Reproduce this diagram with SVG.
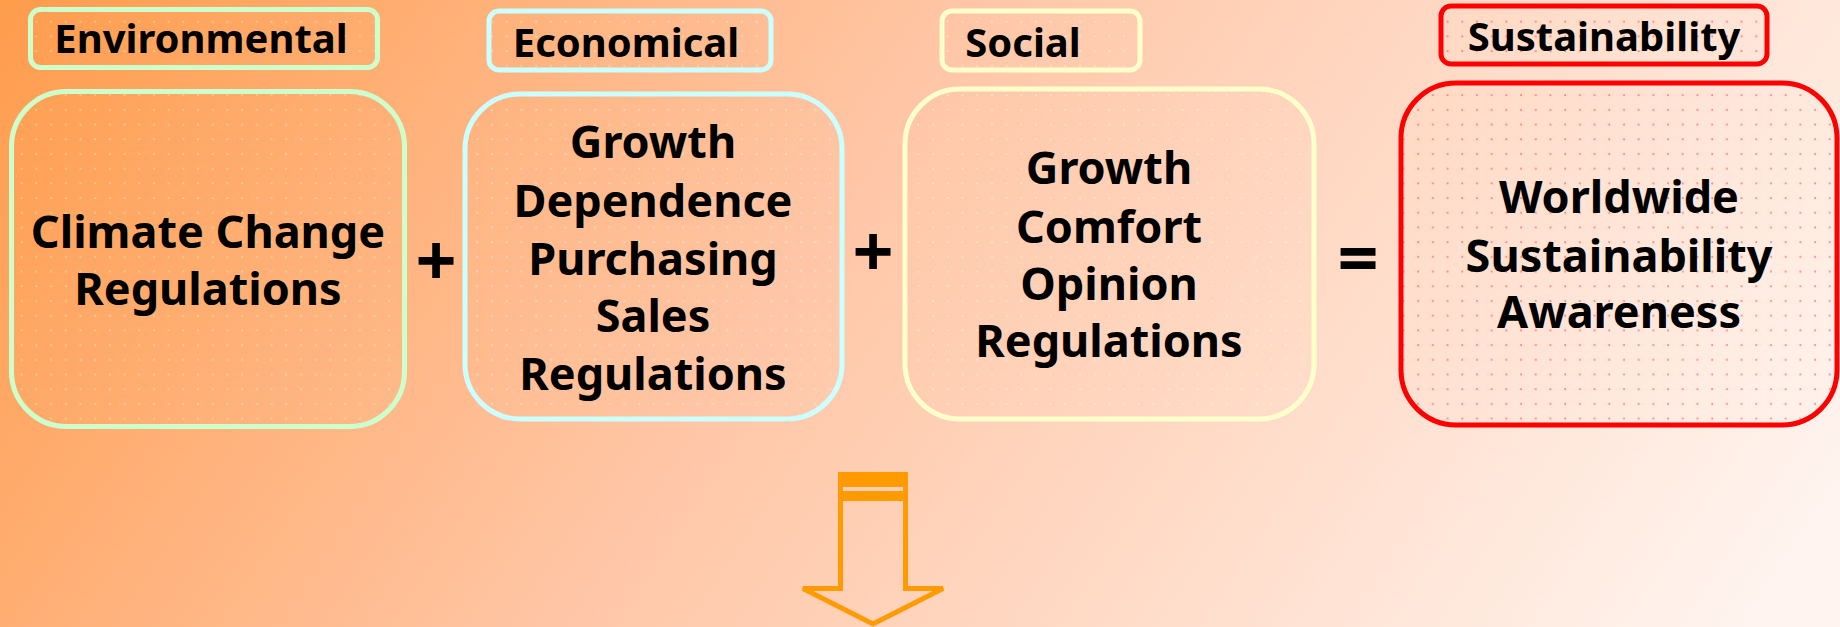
<svg xmlns="http://www.w3.org/2000/svg" width="1840" height="627" viewBox="0 0 1840 627">
<defs>
<linearGradient id="bg" gradientUnits="userSpaceOnUse" x1="0" y1="0" x2="1500" y2="1000">
<stop offset="0" stop-color="#FF9C4C"/>
<stop offset="0.45" stop-color="#FFC6A6"/>
<stop offset="1" stop-color="#FFF4EF"/>
</linearGradient>
<pattern id="pg" width="14.7" height="14.7" patternUnits="userSpaceOnUse"><circle cx="7" cy="7" r="0.9" fill="#CCFFCC" opacity="0.6"/></pattern>
<pattern id="pc" width="14.7" height="14.7" patternUnits="userSpaceOnUse"><circle cx="7" cy="7" r="0.9" fill="#CCFFFF" opacity="0.6"/></pattern>
<pattern id="py" width="14.7" height="14.7" patternUnits="userSpaceOnUse"><circle cx="7" cy="7" r="0.9" fill="#FFFFCC" opacity="0.6"/></pattern>
<pattern id="pr" width="14.7" height="14.7" patternUnits="userSpaceOnUse"><circle cx="7" cy="7" r="1" fill="#FF4040" opacity="0.6"/></pattern>
</defs>
<style>
.t{font-family:"Noto Sans","DejaVu Sans",sans-serif;font-weight:bold;fill:#000;text-anchor:middle}
.lab{font-size:40px}
.main{font-size:45px}
.op{font-size:72px}
.g{stroke:#CCFFCC}
.c{stroke:#CCFFFF}
.y{stroke:#FFFFCC}
.r{stroke:#FF0000}
rect{stroke-width:5}
</style>
<rect width="1840" height="627" fill="url(#bg)"/>

<g id="label-environmental">
<rect class="g" x="30.5" y="9.5" width="347" height="58" rx="10" fill="url(#pg)"/>
<text class="t lab" x="201" y="53">Environmental</text>
</g>
<g id="label-economical">
<rect class="c" x="489" y="11" width="282" height="59" rx="10" fill="url(#pc)"/>
<text class="t lab" x="626" y="57">Economical</text>
</g>
<g id="label-social">
<rect class="y" x="942" y="11" width="198" height="59" rx="10" fill="url(#py)"/>
<text class="t lab" x="1023" y="57">Social</text>
</g>
<g id="label-sustainability">
<rect class="r" x="1441" y="6" width="326" height="58" rx="10" fill="url(#pr)"/>
<text class="t lab" x="1604" y="51">Sustainability</text>
</g>

<g id="node-environmental">
<rect class="g" x="11.5" y="91.5" width="393" height="335" rx="55" fill="url(#pg)"/>
<text class="t main" x="208" y="248">Climate Change</text>
<text class="t main" x="208" y="305">Regulations</text>
</g>
<g id="node-economical">
<rect class="c" x="465" y="94" width="377" height="325" rx="55" fill="url(#pc)"/>
<text class="t main" x="653" y="158">Growth</text>
<text class="t main" x="653" y="217">Dependence</text>
<text class="t main" x="653" y="275">Purchasing</text>
<text class="t main" x="653" y="332">Sales</text>
<text class="t main" x="653" y="390">Regulations</text>
</g>
<g id="node-social">
<rect class="y" x="905" y="89" width="409" height="330" rx="55" fill="url(#py)"/>
<text class="t main" x="1109" y="184">Growth</text>
<text class="t main" x="1109" y="243">Comfort</text>
<text class="t main" x="1109" y="300">Opinion</text>
<text class="t main" x="1109" y="357">Regulations</text>
</g>
<g id="node-sustainability">
<rect class="r" x="1401" y="83" width="436" height="342" rx="55" fill="url(#pr)"/>
<text class="t main" x="1619" y="213">Worldwide</text>
<text class="t main" x="1619" y="272">Sustainability</text>
<text class="t main" x="1619" y="328">Awareness</text>
</g>

<g id="operators">
<text class="t op" x="436" y="286">+</text>
<text class="t op" x="873" y="277">+</text>
<text class="t op" x="1358" y="284">=</text>
</g>

<g id="connectors">
<path d="M840.5,474.5 V588.5 H803 L873,624 L943,588.5 H905.5 V474.5 Z" fill="none" stroke="#FF9A00" stroke-width="5" stroke-linejoin="miter"/>
<rect x="838" y="472" width="70" height="15" fill="#FF9A00" stroke="none"/>
<rect x="838" y="491" width="70" height="10" fill="#FF9A00" stroke="none"/>
</g>
</svg>
